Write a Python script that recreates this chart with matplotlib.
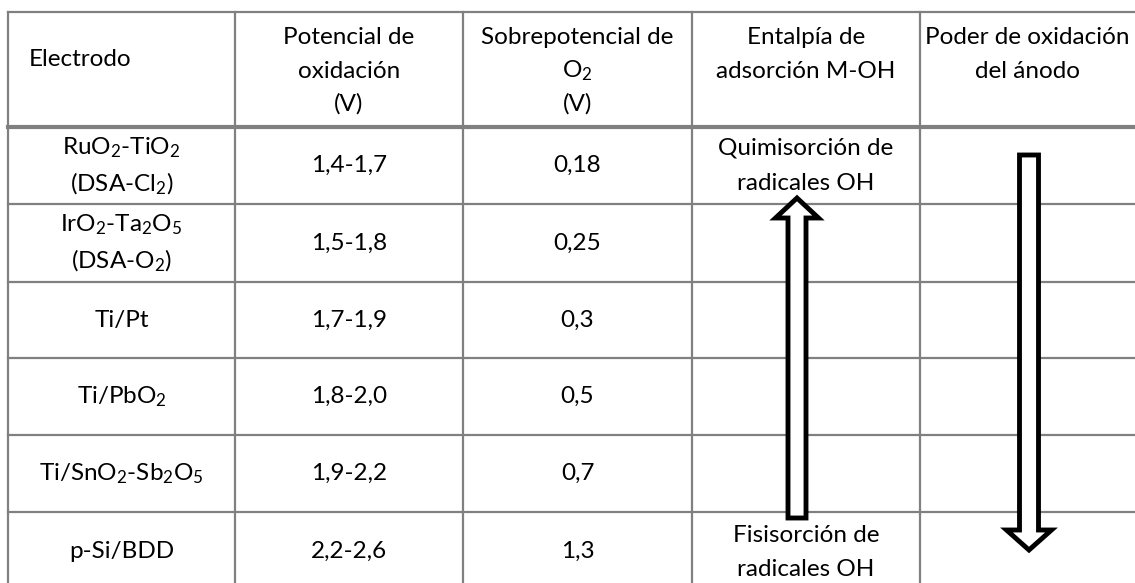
import matplotlib
matplotlib.use("Agg")
import matplotlib.pyplot as plt
from matplotlib.patches import FancyArrow

plt.rcParams['font.family'] = ['Lato', 'DejaVu Sans']
plt.rcParams['mathtext.fontset'] = 'custom'
plt.rcParams['mathtext.rm'] = 'Lato'
plt.rcParams['mathtext.it'] = 'Lato:italic'
plt.rcParams['mathtext.bf'] = 'Lato:bold'

# table content
headers = [["Electrodo"],
           ["Potencial de", "oxidación", "(V)"],
           ["Sobrepotencial de", "O$_2$", "(V)"],
           ["Entalpía de", "adsorción M-OH"],
           ["Poder de oxidación", "del ánodo"]]
electrodes = [["RuO$_2$-TiO$_2$", "(DSA-Cl$_2$)"],
              ["IrO$_2$-Ta$_2$O$_5$", "(DSA-O$_2$)"],
              ["Ti/Pt"],
              ["Ti/PbO$_2$"],
              ["Ti/SnO$_2$-Sb$_2$O$_5$"],
              ["p-Si/BDD"]]
potentials = ["1,4-1,7", "1,5-1,8", "1,7-1,9", "1,8-2,0", "1,9-2,2", "2,2-2,6"]
overpotentials = ["0,18", "0,25", "0,3", "0,5", "0,7", "1,3"]
adsorption_top = ["Quimisorción de", "radicales OH"]
adsorption_bottom = ["Fisisorción de", "radicales OH"]

# layout in pixels
W, H = 1135, 583
col_edges = [8, 235, 463, 692, 920, 1135]
row_edges = [12, 127, 204, 282, 358, 435, 512, 590]
line_color = '#808080'
fs = 17.5

fig = plt.figure(figsize=(W / 100, H / 100), dpi=100)
ax = fig.add_axes([0, 0, 1, 1])
ax.set_xlim(0, W)
ax.set_ylim(H, 0)
ax.axis('off')

# grid
for x in col_edges[:-1]:
    ax.plot([x, x], [row_edges[0], H], color=line_color, lw=1.6, zorder=1)
for i, y in enumerate(row_edges[:-1]):
    ax.plot([col_edges[0], W], [y, y], color=line_color,
            lw=3 if i == 1 else 1.6, zorder=1)

centers = [(col_edges[i] + col_edges[i + 1]) / 2 for i in range(5)]


def cell_text(x, yc, lines, gap):
    n = len(lines)
    for k, s in enumerate(lines):
        y = yc + (k - (n - 1) / 2) * gap
        ax.text(x, y, s, ha='center', va='center', fontsize=fs, color='black', zorder=2)


# header
header_y = [38, 71, 104]
for j, lines in enumerate(headers):
    if len(lines) == 1:
        ax.text(80, 60, lines[0], ha='center', va='center', fontsize=fs, zorder=2)
    else:
        for k, s in enumerate(lines):
            ax.text(centers[j], header_y[k], s, ha='center', va='center', fontsize=fs, zorder=2)

# body
for i in range(6):
    yc = (row_edges[i + 1] + row_edges[i + 2]) / 2
    cell_text(centers[0], yc, electrodes[i], 36)
    cell_text(centers[1], yc, [potentials[i]], 36)
    cell_text(centers[2], yc, [overpotentials[i]], 36)

yc_top = (row_edges[1] + row_edges[2]) / 2
cell_text(centers[3], yc_top, adsorption_top, 36)
cell_text(centers[3], 553, adsorption_bottom, 34)

# arrows
up = FancyArrow(797, 518, 0, -320, width=18, head_width=43, head_length=20,
                length_includes_head=True, facecolor='white', edgecolor='black',
                lw=3.5, joinstyle='miter', zorder=3)
down = FancyArrow(1029, 155, 0, 395, width=19, head_width=45, head_length=20,
                  length_includes_head=True, facecolor='white', edgecolor='black',
                  lw=3.5, joinstyle='miter', zorder=3)
ax.add_patch(up)
ax.add_patch(down)

fig.savefig("out.png", dpi=100, facecolor='white')
